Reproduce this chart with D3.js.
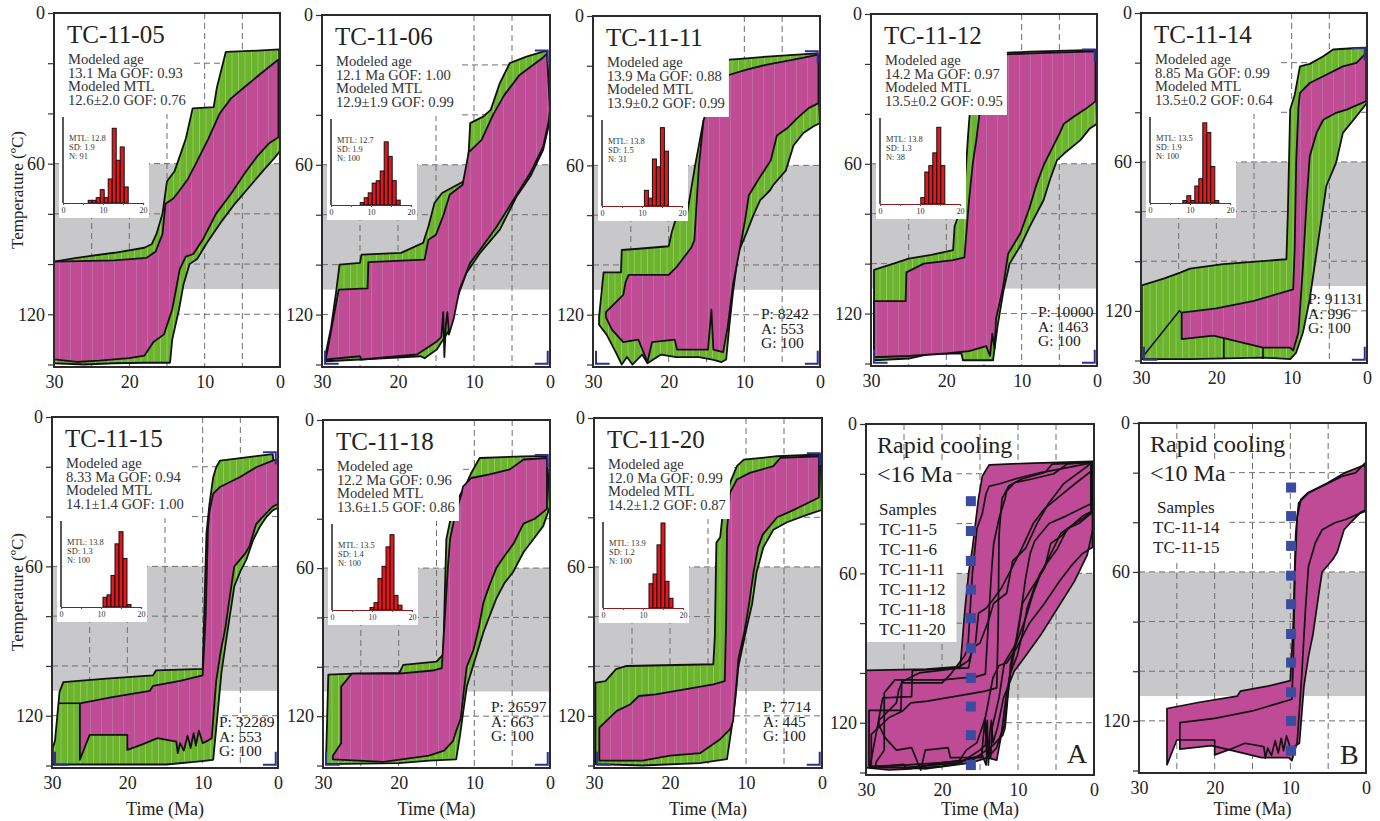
<!DOCTYPE html>
<html>
<head>
<meta charset="utf-8">
<script src="https://cdn.jsdelivr.net/npm/d3@7"></script>
<style>
  body { margin: 0; background: #fff; }
  svg { display: block; font-family: "Liberation Serif", "Times New Roman", serif; }
</style>
</head>
<body>
<div class="chart"></div>
<script>
var svgWidth = 1380;
var svgHeight = 821;

// axes
var timeTicks = [30, 20, 10, 0];
var tempLabels = [0, 60, 120];
var tempTicks = [0, 20, 40, 60, 80, 100, 120, 140];
var gridTime = [25, 20, 15, 10, 5];
var gridTemp = [20, 40, 60, 80, 100, 120];
var pazTemp = [60, 110];

// sample names and model text
var sampleNames = ["TC-11-05", "TC-11-06", "TC-11-11", "TC-11-12", "TC-11-14", "TC-11-15", "TC-11-18", "TC-11-20"];
var modeledAge = ["13.1 Ma GOF: 0.93", "12.1 Ma GOF: 1.00", "13.9 Ma GOF: 0.88", "14.2 Ma GOF: 0.97",
                  "8.85 Ma GOF: 0.99", "8.33 Ma GOF: 0.94", "12.2 Ma GOF: 0.96", "12.0 Ma GOF: 0.99"];
var modeledMtl = ["12.6±2.0 GOF: 0.76", "12.9±1.9 GOF: 0.99", "13.9±0.2 GOF: 0.99", "13.5±0.2 GOF: 0.95",
                  "13.5±0.2 GOF: 0.64", "14.1±1.4 GOF: 1.00", "13.6±1.5 GOF: 0.86", "14.2±1.2 GOF: 0.87"];
var histMtl = ["12.8", "12.7", "13.8", "13.8", "13.5", "13.8", "13.5", "13.9"];
var histSd = ["1.9", "1.9", "1.5", "1.3", "1.9", "1.3", "1.4", "1.2"];
var histN = ["91", "100", "31", "38", "100", "100", "100", "100"];
var pagP = [null, null, "8242", "10000", "91131", "32289", "26597", "7714"];
var pagA = [null, null, "553", "1463", "996", "553", "663", "445"];
var pagG = [null, null, "100", "100", "100", "100", "100", "100"];

// track-length histograms (first bin start, um; counts per 1 um bin)
var histStart = [6.3, 7.3, 10.6, 10.2, 8.2, 10.5, 9.5, 11.5];
var hist05 = [1, 1, 2, 5, 2, 9, 28, 16, 21, 6];
var hist06 = [1, 3, 5, 9, 10, 14, 26, 20, 10, 2];
var hist11 = [2, 1, 6, 5, 10, 7];
var hist12 = [1, 5, 6, 8, 12, 6];
var hist14 = [1, 3, 1, 7, 10, 33, 29, 15, 1];
var hist15 = [4, 5, 13, 26, 31, 20, 1];
var hist18 = [1, 3, 13, 18, 26, 31, 6, 2];
var hist20 = [10, 14, 26, 35, 11, 4];

// t-T envelopes [Ma, degC]: acceptable (green) and good (magenta), cool edge / hot edge
var tc05GreenTop = [[30,99],[27,97.5],[22,95.5],[18,93.5],[17,92],[16.4,88],[15.6,80],[15,67],[14,63],[13.3,57],[12.5,50],[11.6,38],[8.8,37.5],[8.4,30],[7.2,15.5],[3,15],[0.1,14.5]];
var tc05GreenBot = [[30,139.5],[26,140],[22,139.5],[18,139.3],[14.6,139.3],[14.3,130],[13.4,118],[12.8,108],[12,100],[11,98],[9.8,92],[8,84],[6,76],[4,69],[2,62],[0.8,58],[0,55]];
var tc05PinkTop = [[30,99],[22,98.5],[17.7,97.5],[16.5,95],[15.6,88],[15.2,76],[14.2,74],[13.4,71],[12.2,66],[11,59],[9.5,50],[8,40],[6.5,34],[4.5,29],[2.5,24],[0.2,18.5]];
var tc05PinkBot = [[30,138],[27,139],[24,138.5],[20,137.5],[18,136.5],[16.8,131],[15.4,128],[14.3,118],[13.3,102],[12.5,97],[11.5,96],[10.2,90],[8.5,80],[6.5,72],[4.5,63],[3,57],[1.5,52],[0.2,49.5]];

var tc06GreenTop = [[29.6,137],[28.8,125],[28.1,110],[27.7,100],[25,99.3],[24.8,96],[19.6,95.3],[16.7,91.3],[16,84.7],[15.2,75.3],[14.2,71.3],[11.4,66.7],[10.8,60.7],[10.5,43.3],[8.8,40.7],[7.8,38],[6.6,27.3],[5.3,19.3],[3.1,16.7],[0.9,14.7],[0.4,14.5]];
var tc06GreenBot = [[29.6,138.7],[25,138],[17,136.7],[16.5,137.5],[14.9,134],[13.2,126],[12.3,114],[11,103.3],[9.2,95.3],[6.6,86],[4.4,72.7],[2.6,64.7],[0.9,54],[0,42]];
var tc06PinkTop = [[29.5,138],[27.8,110],[24,109.5],[23.9,99],[16.5,98],[16,90],[15,88],[14,80],[13.2,72],[11.5,68],[10.7,55],[9,50],[7.5,40],[6,32],[4,24],[0.9,17],[0.4,15.5]];
var tc06PinkBot = [[29.5,138],[25,136.7],[24.8,138],[17.5,136],[16,133],[15,131],[14.3,129],[14.05,119],[13.9,137],[13.7,124],[13.5,119],[13.3,128],[12.7,122],[11.9,110],[10.5,99.3],[9.2,94],[7,84.7],[4.8,74],[2.6,63.3],[0.9,52.7],[0.2,43],[0,38]];

var tc11GreenTop = [[29.2,121],[28.6,103],[26.3,103],[26.2,94],[24,93.5],[20,92.5],[19.6,87],[19.1,82],[17.6,80],[16.5,60],[15.4,42],[14.5,36],[14.3,18.5],[12,17.5],[9.7,17],[7,16.3],[3.5,15.6],[0.4,15]];
var tc11GreenBot = [[29.2,124],[28.2,128],[27,135],[26.2,140],[25.5,137],[24.8,140],[23.5,136],[22.8,139.5],[21,136],[19,137],[16,137],[14.2,138],[13,139],[12.4,138],[12,125],[11.5,111],[10.8,95],[9.7,87],[8.8,80],[7.9,74],[6.6,70],[6.2,68],[4.5,62],[3.5,52],[2.2,47],[0.9,44.4],[0,43]];
var tc11PinkTop = [[28.3,119],[26,112],[25.7,107],[25.3,104],[20,104],[19,101],[17,93],[16.6,90],[16,60],[15.4,42],[14.7,36],[14.2,28],[13.8,25],[12.4,24],[9.7,21.5],[7,19.5],[3.5,17.5],[0.2,15.5]];
var tc11PinkBot = [[28.3,121],[27.5,126],[26,131],[24,130],[22.8,139],[22.2,131],[19.2,130],[18.9,134],[15.9,134],[14.8,134],[14.35,118],[14.1,134],[12.8,135],[12.2,125],[11.5,108],[11,100],[10.5,92],[9.9,82],[9.4,72],[8.2,66],[6.5,58],[5.7,48],[4.3,45],[3,41],[1.5,37],[0.2,35]];

var tc12GreenTop = [[29.6,102.5],[27,100],[25,98],[22,96.5],[19.1,94.6],[18.9,85],[18.3,80],[17.6,70],[17.3,57],[17.1,48],[16.9,40],[16.4,34],[15.6,22.5],[15.1,18.4],[13.8,15.8],[8.9,15.1],[0.2,14.4]];
var tc12GreenBot = [[29.6,138.7],[25,138],[22,136],[18,136],[17.8,138.7],[13.8,138.7],[13.2,125],[12.4,110.6],[11.6,100],[10,92],[8.9,85],[7.1,74.6],[6.2,66],[5.3,58.5],[4.4,56],[2.2,50.5],[1,46],[0,44]];
var tc12PinkTop = [[29.6,115],[25.4,115],[25.3,103.5],[23,100],[19.1,98.6],[17.6,97.5],[17.4,90],[17,75],[16.5,60],[16,50],[15.6,40],[15.2,30],[14.7,21],[13.8,16.4],[8.9,15.8],[0.2,15]];
var tc12PinkBot = [[29.6,137.5],[25,137],[20,136],[17,135],[14.7,133],[14.2,137],[13.9,128],[13.6,134],[13.4,122],[12.5,110],[11.8,96],[10.2,88],[9,78],[8,68],[7,60],[6,54],[5,48],[4.4,44],[3,41],[1.5,38],[0.2,35]];

var tc14GreenTop = [[29.9,109.7],[27,107],[24.8,104.6],[23.5,103],[19.1,101.2],[10.7,99.2],[10.5,80],[10.2,38.9],[9.6,33],[8.9,21.5],[7.6,20.5],[5.8,17.4],[4.5,14.7],[1.4,14.1],[0.1,14]];
var tc14GreenBot = [[29.9,139.4],[23.4,139.4],[13.8,138.8],[10.2,139.4],[9.4,136.8],[8.5,128.7],[7.6,115.3],[6.7,96.5],[5.4,69.7],[4.1,60.3],[3.2,48.3],[1.4,41.6],[0,36.2]];
var tc14PinkTop = [[24.6,120.7],[20,119],[15,116],[9.8,111.3],[9.6,95],[9.4,60],[9.1,38],[8.9,32.2],[7.6,28.2],[5.8,25.5],[3.2,21.5],[1.4,20.1],[0.1,16.1]];
var tc14PinkBot = [[24.6,131.4],[20.4,130],[19,131],[13.8,134.8],[10.2,134.8],[9.8,136],[9.1,128.7],[8.5,102],[8,75],[7.6,57.7],[6.7,48.3],[5.8,43],[4.1,40.2],[2.7,38.9],[0.1,35.5]];
var tc14Lines = [[[29.5,137.5],[24.9,120],[24.6,120.7]], [[19,131],[19,139.4]], [[13.8,134.8],[13.8,139.4]]];

var tc15GreenTop = [[29.9,133],[29.6,130],[29,110.4],[28.5,106.5],[22.8,105.1],[16.6,103.8],[16.2,101.8],[10,101.2],[9.8,80],[9.5,46.7],[9.1,35],[8.6,24.2],[8.2,20.2],[7.7,17.5],[5,16.5],[0.7,14.9]];
var tc15GreenBot = [[29.9,139.6],[22.8,139.6],[14.8,139.6],[10.4,138.3],[8.6,137.7],[8.2,125],[7.5,102.5],[6.8,88],[5.8,68],[5,62],[4.2,57.3],[3.3,49.4],[2.4,44],[1.5,40],[0.7,37.5],[0,36.5]];
var tc15PinkTop = [[26.3,115],[22,112.5],[17,110],[16.6,108],[13,106],[10,103.8],[9.6,80],[9.3,45],[9.1,38],[8.6,30.8],[7.7,28.1],[5.1,24.2],[2.9,20.2],[0.7,17.5],[0,17]];
var tc15PinkBot = [[26.3,137.7],[25,127.7],[20,127.7],[20,133.7],[18,131.5],[16,129],[13.5,130.4],[13.3,135],[13,131],[12.5,134],[12,128],[11.6,133],[11.2,127],[10.9,132],[10.5,126],[10,131],[9.3,130],[8.8,129],[8.2,106],[7.6,94],[7,85],[6.2,68],[5.8,60],[4.4,55],[3.8,52],[2.9,43],[2,40],[0.7,36],[0,35]];
var tc15Lines = [[[29.2,115],[26.3,115]]];

var tc18GreenTop = [[29.6,138],[29.3,103.2],[26,102.8],[19.9,102.5],[19.4,99.2],[15,97.9],[14.1,95],[13.9,70],[13.7,48.3],[12.8,34.9],[11.8,30],[11,25.5],[10.5,22],[9.3,15.4],[3.5,14.7],[0.4,14.5]];
var tc18GreenBot = [[29.6,139.4],[20,139],[15.9,138],[12.4,137.5],[11.9,128],[11.5,119],[11,108],[10.1,99],[8.8,86],[7.1,72.4],[6,66],[4.9,61.7],[3.5,53.6],[2.2,48.3],[0.9,43],[0,35]];
var tc18PinkTop = [[28.7,136],[27.6,131],[27.6,108],[26.2,102.8],[20,102.8],[15.5,101.5],[14.3,100.5],[13.9,80],[13.5,60],[13.2,48],[12.5,38],[11.7,30],[11.5,27],[10.4,23.5],[8,22],[5.3,20],[3.5,16],[0.4,15.4]];
var tc18PinkBot = [[28.7,137.5],[22,138.5],[16,136],[14,134],[12.8,130],[12.4,126],[11.8,121],[11.4,110],[11,100],[10.1,93],[9.4,84],[8.8,74],[8,67],[7.1,60],[6,55],[4.8,50],[3.5,42],[2,40],[0.4,36]];

var tc20GreenTop = [[29.8,106.6],[28.5,106],[27.1,101.2],[25.7,99.9],[14.3,99.2],[14.1,87.8],[13.9,50.3],[13.4,48],[13,36.9],[12.1,26.1],[11.2,19.4],[10.3,16.8],[5.9,15.4],[0.2,14.7]];
var tc20GreenBot = [[29.8,139.4],[23.6,140],[16.1,139],[12.5,137.4],[11.9,125],[11.4,113],[11,100],[10.1,87],[9.2,75],[8.6,62],[7.7,52],[6.4,45],[4.6,42],[2,39],[0,37]];
var tc20PinkTop = [[29.3,124.7],[27,118],[25.2,115.3],[24.1,112],[21.9,111.3],[15.6,108],[14.3,107.3],[12.8,106],[12.6,80],[12.5,45],[12.3,36.9],[12.1,30],[11.2,24.8],[9.5,22.1],[6.4,19.4],[5.5,16.1],[0.4,15.4]];
var tc20PinkBot = [[29.3,138],[23.6,138],[20,136],[16,135],[13.4,129.4],[12,125],[11.7,122],[11.2,105],[11,97],[10.2,86],[9.6,75],[9,62],[8.4,52],[7.8,47],[7,44],[5.9,40],[3.7,37],[0.4,32]];

// HeFTy constraint box corners
var boxTR = [[2.0,14.2],[0.3,14.2],[0.3,19]];
var boxBL = [[29.6,134.5],[29.6,139.7],[27.8,139.7]];
var boxBR = [[2.0,139.7],[0.3,139.7],[0.3,134.5]];

// summary panels
var summaryTitle = ["<16 Ma", "<10 Ma"];
var summarySamplesA = ["TC-11-5", "TC-11-6", "TC-11-11", "TC-11-12", "TC-11-18", "TC-11-20"];
var summarySamplesB = ["TC-11-14", "TC-11-15"];
var markerTimeA = 16.2;
var markerTempsA = [31, 43, 55, 66.5, 78, 90, 102, 113.5, 125, 137];
var markerTimeB = 9.9;
var markerTempsB = [26, 37.5, 49.5, 61.5, 73, 85, 96.5, 108.5, 120, 132];

// ---------------------------------------------------------------
var greens = [[tc05GreenTop, tc05GreenBot], [tc06GreenTop, tc06GreenBot], [tc11GreenTop, tc11GreenBot], [tc12GreenTop, tc12GreenBot],
              [tc14GreenTop, tc14GreenBot], [tc15GreenTop, tc15GreenBot], [tc18GreenTop, tc18GreenBot], [tc20GreenTop, tc20GreenBot]];
var pinks = [[tc05PinkTop, tc05PinkBot], [tc06PinkTop, tc06PinkBot], [tc11PinkTop, tc11PinkBot], [tc12PinkTop, tc12PinkBot],
             [tc14PinkTop, tc14PinkBot], [tc15PinkTop, tc15PinkBot], [tc18PinkTop, tc18PinkBot], [tc20PinkTop, tc20PinkBot]];
var hists = [hist05, hist06, hist11, hist12, hist14, hist15, hist18, hist20];
var extraLines = [[], [], [], [], tc14Lines, tc15Lines, [], []];

// panel frames [left, top, width, height]
var frames = [[54,13,226,354],[322,15,228,352],[593,16,227,351],[871,14,226,352],[1141,13,226,350],
              [52,417,226,351],[323,420,227,348],[594,418,228,350]];
var summaryFrames = [[866,424,228,351],[1139,423,227,350]];
var pagTop = [0, 0, 303, 303, 291, 310, 292, 294];

var svg = d3.select(".chart")
  .append("svg")
  .attr("width", svgWidth)
  .attr("height", svgHeight);

var defs = svg.append("defs");

// streaky fills, like many overlapping paths
var gp = defs.append("pattern").attr("id", "greenFill").attr("patternUnits", "userSpaceOnUse")
  .attr("width", 13).attr("height", 10);
gp.append("rect").attr("width", 13).attr("height", 10).attr("fill", "#6cb42e");
gp.append("rect").attr("x", 2).attr("width", 1).attr("height", 10).attr("fill", "#8dca5b");
gp.append("rect").attr("x", 8).attr("width", 2).attr("height", 10).attr("fill", "#7abd42");

var pp = defs.append("pattern").attr("id", "pinkFill").attr("patternUnits", "userSpaceOnUse")
  .attr("width", 11).attr("height", 10);
pp.append("rect").attr("width", 11).attr("height", 10).attr("fill", "#c04c96");
pp.append("rect").attr("x", 5).attr("width", 1).attr("height", 10).attr("fill", "#bc6a9f");

var line = function(x, y) {
  return d3.line().x(d => x(d[0])).y(d => y(d[1]));
};

function envelope(top, bot, x, y) {
  return line(x, y)(top.concat(bot.slice().reverse())) + "Z";
}

function base(f, idx) {
  var g = svg.append("g").attr("transform", `translate(${f[0]}, ${f[1]})`);
  var x = d3.scaleLinear().domain([30, 0]).range([0, f[2]]);
  var y = d3.scaleLinear().domain([0, 141]).range([0, f[3]]);

  defs.append("clipPath").attr("id", "clip" + idx)
    .append("rect").attr("width", f[2]).attr("height", f[3]);
  var plot = g.append("g").attr("clip-path", `url(#clip${idx})`);

  // partial annealing zone
  plot.append("rect")
    .attr("x", x(30)).attr("width", x(0) - x(30))
    .attr("y", y(pazTemp[0])).attr("height", y(pazTemp[1]) - y(pazTemp[0]))
    .attr("fill", "#c8c8ca");

  // dashed grid
  plot.selectAll(".gx").data(gridTime).enter().append("line")
    .attr("x1", d => x(d)).attr("x2", d => x(d)).attr("y1", 0).attr("y2", f[3])
    .attr("stroke", "#6e6e6e").attr("stroke-width", 1).attr("stroke-dasharray", "6,4");
  plot.selectAll(".gy").data(gridTemp).enter().append("line")
    .attr("y1", d => y(d)).attr("y2", d => y(d)).attr("x1", 0).attr("x2", f[2])
    .attr("stroke", "#6e6e6e").attr("stroke-width", 1).attr("stroke-dasharray", "6,4");

  return {g: g, plot: plot, x: x, y: y};
}

function axes(p, f, showTime) {
  var leftAxis = d3.axisLeft(p.y).tickValues(tempTicks).tickSize(6).tickPadding(3)
    .tickFormat(d => tempLabels.indexOf(d) >= 0 ? d : "");
  var la = p.g.append("g").call(leftAxis);
  la.select(".domain").remove();
  la.selectAll("line").attr("stroke", "#333").attr("stroke-width", 1.2);
  la.selectAll("text").attr("font-size", 18).attr("fill", "#222")
    .attr("font-family", "Liberation Serif, serif");

  var bottomAxis = d3.axisBottom(p.x).tickValues(timeTicks).tickSize(0).tickPadding(8);
  var ba = p.g.append("g").attr("transform", `translate(0, ${f[3]})`).call(bottomAxis);
  ba.select(".domain").remove();
  ba.selectAll("text").attr("font-size", 18).attr("fill", "#222")
    .attr("font-family", "Liberation Serif, serif");

  p.g.append("rect").attr("width", f[2]).attr("height", f[3])
    .attr("fill", "none").attr("stroke", "#2b2b2b").attr("stroke-width", 2);

  if (showTime) {
    svg.append("text").attr("x", f[0] + f[2] / 2).attr("y", 815)
      .attr("text-anchor", "middle").attr("font-size", 18).attr("fill", "#222")
      .text("Time (Ma)");
  }
}

function drawSample(i) {
  var f = frames[i];
  var p = base(f, i);

  p.plot.append("path").attr("d", envelope(greens[i][0], greens[i][1], p.x, p.y))
    .attr("fill", "url(#greenFill)").attr("stroke", "#111").attr("stroke-width", 1.8)
    .attr("stroke-linejoin", "round");
  p.plot.append("path").attr("d", envelope(pinks[i][0], pinks[i][1], p.x, p.y))
    .attr("fill", "url(#pinkFill)").attr("stroke", "#111").attr("stroke-width", 1.8)
    .attr("stroke-linejoin", "round");
  extraLines[i].forEach(function(l) {
    p.plot.append("path").attr("d", line(p.x, p.y)(l))
      .attr("fill", "none").attr("stroke", "#111").attr("stroke-width", 1.6);
  });

  if (i > 0) {
    [boxTR, boxBL, boxBR].forEach(function(b) {
      p.g.append("path").attr("d", line(p.x, p.y)(b))
        .attr("fill", "none").attr("stroke", "#2e3192").attr("stroke-width", 2);
    });
  }

  // title block
  var tb = p.g.append("rect").attr("x", 1).attr("y", 1).attr("height", 100).attr("fill", "#fff");
  var title = p.g.append("text").attr("x", 13).attr("y", 30).attr("font-size", 25)
    .attr("fill", "#222").text(sampleNames[i]);
  var lines = ["Modeled age", modeledAge[i], "Modeled MTL", modeledMtl[i]];
  var maxW = 13 + title.node().getComputedTextLength();
  lines.forEach(function(t, k) {
    var tx = p.g.append("text").attr("x", 14).attr("y", 51 + k * 13.6)
      .attr("font-size", 14.6).attr("fill", "#333").text(t);
    maxW = Math.max(maxW, 14 + tx.node().getComputedTextLength());
  });
  tb.attr("width", maxW + 3);

  // track length inset
  var ix = 5, iy = 101, iw = 90, ih = 104;
  var inset = p.g.append("g").attr("transform", `translate(${ix}, ${iy})`);
  inset.append("rect").attr("width", iw).attr("height", ih).attr("fill", "#fff");
  var counts = hists[i];
  var total = d3.sum(counts);
  var hx = d3.scaleLinear().domain([0, 20]).range([4, 84]);
  var hy = d3.scaleLinear().domain([0, 0.35]).range([89, 4]);
  inset.selectAll(".bar").data(counts).enter().append("rect")
    .attr("x", (d, k) => hx(histStart[i] + k))
    .attr("width", (d, k) => hx(histStart[i] + k + 1) - hx(histStart[i] + k))
    .attr("y", d => hy(d / total))
    .attr("height", d => hy(0) - hy(d / total))
    .attr("fill", "#e5161b").attr("stroke", "#111").attr("stroke-width", 1);
  var hAxis = d3.axisBottom(hx).tickValues([0, 5, 10, 15, 20]).tickSize(2).tickPadding(2)
    .tickFormat(d => d % 10 === 0 ? d : "");
  var ha = inset.append("g").attr("transform", "translate(0, 89)").call(hAxis);
  ha.select(".domain").attr("stroke", "#8a1c1c").attr("stroke-width", 1.2);
  ha.selectAll("line").attr("stroke", "#555");
  ha.selectAll("text").attr("font-size", 8).attr("fill", "#333")
    .attr("font-family", "Liberation Serif, serif");
  inset.append("line").attr("x1", 4).attr("x2", 4).attr("y1", 3).attr("y2", 89)
    .attr("stroke", "#222").attr("stroke-width", 1.5);
  ["MTL: " + histMtl[i], "SD: " + histSd[i], "N: " + histN[i]].forEach(function(t, k) {
    inset.append("text").attr("x", 10).attr("y", 27 + k * 8.8)
      .attr("font-size", 8.4).attr("fill", "#333").text(t);
  });

  if (pagP[i]) {
    ["P: " + pagP[i], "A: " + pagA[i], "G: " + pagG[i]].forEach(function(t, k) {
      p.g.append("text").attr("x", f[2] - 59).attr("y", pagTop[i] + k * 14.5)
        .attr("font-size", 15.5).attr("fill", "#222").text(t);
    });
  }

  axes(p, f, i >= 5);
}

function drawSummary(j, members, samples, mTime, mTemps, letter) {
  var f = summaryFrames[j];
  var p = base(f, "s" + j);

  members.forEach(function(m) {
    p.plot.append("path").attr("d", envelope(pinks[m][0], pinks[m][1], p.x, p.y))
      .attr("fill", "#bf4a95");
  });
  members.forEach(function(m) {
    p.plot.append("path").attr("d", envelope(pinks[m][0], pinks[m][1], p.x, p.y))
      .attr("fill", "none").attr("stroke", "#111").attr("stroke-width", 1.7)
      .attr("stroke-linejoin", "round");
  });

  // text blocks
  var tb = p.g.append("rect").attr("x", 1).attr("fill", "#fff");
  var t1 = p.g.append("text").attr("x", 11).attr("y", 29).attr("font-size", 24)
    .attr("fill", "#222").text("Rapid cooling");
  var t2 = p.g.append("text").attr("x", 11).attr("y", 58).attr("font-size", 24)
    .attr("fill", "#222").text(summaryTitle[j]);
  var w = 11 + t2.node().getComputedTextLength();
  var sx = j === 0 ? 13 : 18;
  var sy = j === 0 ? 91 : 90;
  ["Samples"].concat(samples).forEach(function(t, k) {
    var tx = p.g.append("text").attr("x", sx + (j === 1 && k > 0 ? -4 : 0)).attr("y", sy + k * 20)
      .attr("font-size", 17).attr("fill", "#222").text(t);
    w = Math.max(w, sx + tx.node().getComputedTextLength());
  });
  tb.attr("y", 36).attr("width", w + 3).attr("height", sy + samples.length * 20 + 7 - 36);
  t1.raise(); t2.raise();

  p.plot.selectAll(".mk").data(mTemps).enter().append("rect")
    .attr("x", p.x(mTime) - 5).attr("y", d => p.y(d) - 5)
    .attr("width", 10).attr("height", 10).attr("fill", "#3b4ba0");

  p.g.append("text").attr("x", 201).attr("y", j === 0 ? 339 : 341).attr("font-size", 28)
    .attr("fill", "#222").text(letter);

  axes(p, f, true);
}

for (var i = 0; i < 8; i++) drawSample(i);
drawSummary(0, [0, 1, 2, 3, 6, 7], summarySamplesA, markerTimeA, markerTempsA, "A");
drawSummary(1, [4, 5], summarySamplesB, markerTimeB, markerTempsB, "B");

// y axis titles
[190, 592].forEach(function(cy) {
  svg.append("text")
    .attr("transform", `translate(17, ${cy}) rotate(-90)`)
    .attr("text-anchor", "middle").attr("dy", "0.35em")
    .attr("font-size", 17).attr("fill", "#222")
    .text("Temperature (ºC)");
});
</script>
</body>
</html>
